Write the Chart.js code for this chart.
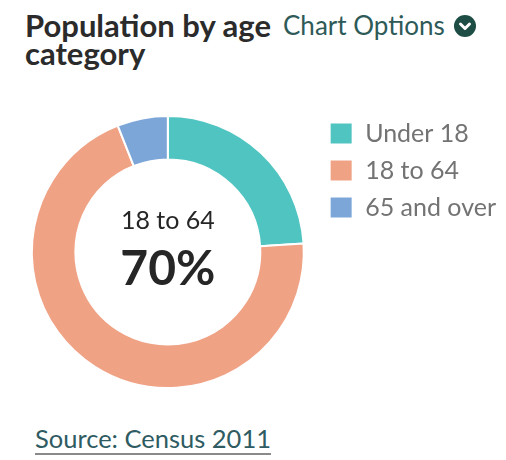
<!DOCTYPE html>
<html>
<head>
<meta charset="utf-8">
<script src="https://cdn.jsdelivr.net/npm/chart.js@4"></script>
<style>
  body { margin: 0; background: #fff; font-family: Lato, "Open Sans", sans-serif; width: 506px; height: 460px; position: relative; overflow: hidden; }
  #title { position: absolute; left: 25px; top: 11px; font-size: 31px; font-weight: bold; color: #2b2b2b; line-height: 28px; width: 260px; }
  #options { position: absolute; left: 283px; top: 9px; font-size: 26px; color: #2e5a58; white-space: nowrap; }
  #options svg { vertical-align: -2px; margin-left: 9px; }
  #chartBox { position: absolute; left: 0; top: 105px; width: 506px; height: 300px; }
  #source { position: absolute; left: 35px; top: 423px; font-size: 25.5px; color: #2f5b62; text-decoration: underline; text-decoration-color: #8a8a8a; text-underline-offset: 5px; }
</style>
</head>
<body>
<div id="title">Population by age category</div>
<div id="options">Chart Options<svg width="22" height="22" viewBox="0 0 22 22"><circle cx="11" cy="11" r="11" fill="#1e4d45"/><path d="M6.5 9 L11 13.5 L15.5 9" stroke="#fff" stroke-width="3" fill="none" stroke-linecap="round" stroke-linejoin="round"/></svg></div>
<div id="chartBox"><canvas id="ageChart"></canvas></div>
<div id="source">Source: Census 2011</div>
<script>
var ageLabels = ["Under 18", "18 to 64", "65 and over"];
var agePercents = [24, 70, 6];
var ageColors = ["#50c4c1", "#f0a285", "#7ca6d8"];
var centerLabel = "18 to 64";
var centerValue = "70%";

// draws the selected category in the hole of the doughnut
var centerText = {
    id: 'centerText',
    afterLayout: function (chart) {
        // legend sits a bit higher than the ring top
        chart.legend.top -= 6;
    },
    afterDraw: function (chart) {
        var meta = chart.getDatasetMeta(0).data[0];
        var ctx = chart.ctx;
        ctx.save();
        ctx.textAlign = 'center';
        ctx.textBaseline = 'middle';
        ctx.fillStyle = '#262626';
        ctx.font = '25px Lato';
        ctx.fillText(centerLabel, meta.x, meta.y - 31);
        ctx.font = 'bold 48px Lato';
        ctx.fillText(centerValue, meta.x, meta.y + 18);
        ctx.restore();
    }
};

document.addEventListener('DOMContentLoaded', function () {
    new Chart(document.getElementById('ageChart'), {
        type: 'doughnut',
        data: {
            labels: ageLabels,
            datasets: [{
                data: agePercents,
                backgroundColor: ageColors,
                borderColor: '#ffffff',
                borderWidth: 2
            }]
        },
        options: {
            responsive: true,
            maintainAspectRatio: false,
            animation: false,
            cutout: '68%',
            layout: { padding: { left: 18, top: 10, bottom: 16, right: 0 } },
            plugins: {
                tooltip: { enabled: false },
                legend: {
                    position: 'right',
                    align: 'start',
                    labels: {
                        boxWidth: 23,
                        boxHeight: 22,
                        padding: 12,
                        color: '#737373',
                        font: { family: 'Lato', size: 25 }
                    }
                }
            }
        },
        plugins: [centerText]
    });
});
</script>
</body>
</html>
